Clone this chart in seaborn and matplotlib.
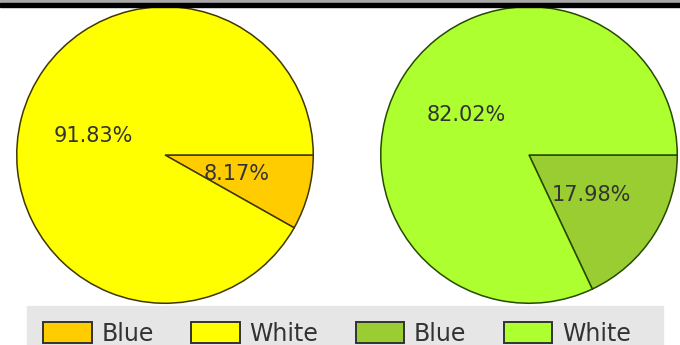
import matplotlib
matplotlib.use("Agg")
import matplotlib.pyplot as plt
import seaborn as sns
from matplotlib.patches import Patch, Rectangle

sns.set_style("white")
plt.rcParams['font.family'] = ['DejaVu Sans']

categories = ["Blue", "White"]
left_values = [8.17, 91.83]
right_values = [17.98, 82.02]
left_colors = ["#FFCC00", "#FFFF00"]
right_colors = ["#9ACD32", "#ADFF2F"]
left_edge = "#403800"
right_edge = "#264a00"

W, H = 680, 345
fig = plt.figure(figsize=(W / 100, H / 100), dpi=100)
fig.patch.set_facecolor("white")

# top bar
fig.patches.append(Rectangle((0, 1 - 3 / H), 1, 3 / H, transform=fig.transFigure,
                             color="#a8a8a8", zorder=0))
fig.patches.append(Rectangle((0, 1 - 7 / H), 1, 4 / H, transform=fig.transFigure,
                             color="#000000", zorder=0))
# legend band
fig.patches.append(Rectangle((27 / W, 0), (663 - 27) / W, 39 / H, transform=fig.transFigure,
                             color="#e6e6e6", zorder=0))

r = 149
def add_pie(cx, cy, values, colors, edge):
    ax = fig.add_axes([(cx - r) / W, (H - cy - r) / H, 2 * r / W, 2 * r / H])
    ax.pie(values, colors=colors, startangle=0, counterclock=False,
           autopct="%.2f%%", pctdistance=0.5, radius=1,
           wedgeprops=dict(edgecolor=edge, linewidth=1.1),
           textprops=dict(color="#333333", fontsize=15))
    ax.set_xlim(-1.005, 1.005)
    ax.set_ylim(-1.005, 1.005)
    ax.set_axis_off()
    return ax

add_pie(165, 155, left_values, left_colors, left_edge)
add_pie(529, 155, right_values, right_colors, right_edge)

handles = [Patch(facecolor=left_colors[0], edgecolor="#333333", linewidth=1.4, label=categories[0]),
           Patch(facecolor=left_colors[1], edgecolor="#333333", linewidth=1.4, label=categories[1]),
           Patch(facecolor=right_colors[0], edgecolor="#333333", linewidth=1.4, label=categories[0]),
           Patch(facecolor=right_colors[1], edgecolor="#333333", linewidth=1.4, label=categories[1])]
leg = fig.legend(handles=handles, ncol=4, loc="center", bbox_to_anchor=(337 / W, 11 / H),
                 frameon=False, fontsize=17, handlelength=2.05, handleheight=1.0,
                 handletextpad=0.4, columnspacing=1.6, borderpad=0)
for t in leg.get_texts():
    t.set_color("#333333")

fig.savefig("out.png", dpi=100)
